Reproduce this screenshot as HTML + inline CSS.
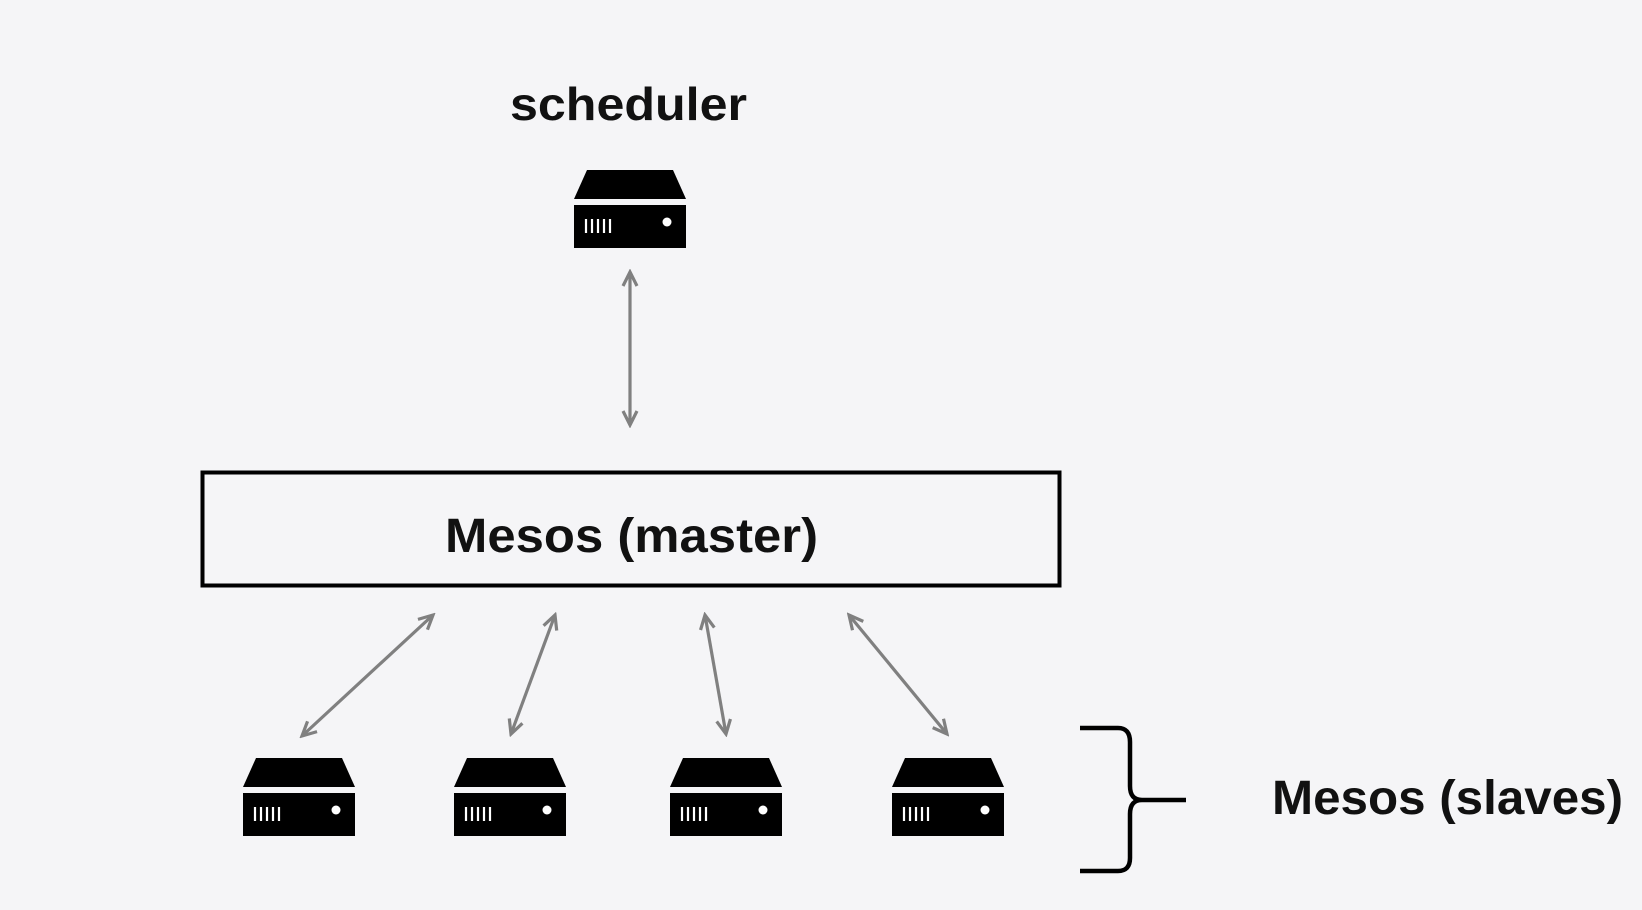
<!DOCTYPE html>
<html><head><meta charset="utf-8"><style>
html,body{margin:0;padding:0;background:#f5f5f7;}
svg{display:block}
</style></head><body>
<svg width="1642" height="910" viewBox="0 0 1642 910" xmlns="http://www.w3.org/2000/svg">
<defs>
<g id="srv">
<polygon points="13,0 99,0 112,29 0,29" fill="#000"/>
<rect x="0" y="35" width="112" height="43" fill="#000"/>
<g stroke="#fff" stroke-width="2.2">
<line x1="12" y1="49" x2="12" y2="63"/><line x1="18" y1="49" x2="18" y2="63"/>
<line x1="24" y1="49" x2="24" y2="63"/><line x1="30" y1="49" x2="30" y2="63"/>
<line x1="36" y1="49" x2="36" y2="63"/>
</g>
<circle cx="93" cy="52" r="4.5" fill="#fff"/>
</g>
<marker id="ah" viewBox="0 0 20 20" refX="17" refY="10" markerWidth="20" markerHeight="20" markerUnits="userSpaceOnUse" orient="auto-start-reverse">
<path d="M3,3 L17,10 L3,17" fill="none" stroke="#808080" stroke-width="3.2"/>
</marker>
</defs>
<text x="510" y="120" textLength="237" lengthAdjust="spacingAndGlyphs" font-family="Liberation Sans, sans-serif" font-weight="bold" font-size="46" fill="#111">scheduler</text>
<use href="#srv" x="574" y="170"/>
<g stroke="#808080" stroke-width="3.2" fill="none" marker-start="url(#ah)" marker-end="url(#ah)">
<line x1="630" y1="272" x2="630" y2="425"/>
<line x1="433" y1="615" x2="302" y2="736"/>
<line x1="555" y1="615" x2="511" y2="734"/>
<line x1="705" y1="615" x2="726" y2="734"/>
<line x1="849" y1="615" x2="947" y2="734"/>
</g>
<rect x="202.5" y="472.5" width="857" height="113" fill="none" stroke="#000" stroke-width="4"/>
<text x="445" y="552" textLength="373" lengthAdjust="spacingAndGlyphs" font-family="Liberation Sans, sans-serif" font-weight="bold" font-size="48" fill="#111">Mesos (master)</text>
<use href="#srv" x="243" y="758"/>
<use href="#srv" x="454" y="758"/>
<use href="#srv" x="670" y="758"/>
<use href="#srv" x="892" y="758"/>
<path d="M1080,728 L1118,728 Q1130,728 1130,742 L1130,786 Q1130,800 1142,800 L1186,800 M1142,800 Q1130,800 1130,814 L1130,858 Q1130,871 1118,871 L1080,871" fill="none" stroke="#000" stroke-width="4.5"/>
<text x="1272" y="814" textLength="351" lengthAdjust="spacingAndGlyphs" font-family="Liberation Sans, sans-serif" font-weight="bold" font-size="48" fill="#111">Mesos (slaves)</text>
</svg>
</body></html>
